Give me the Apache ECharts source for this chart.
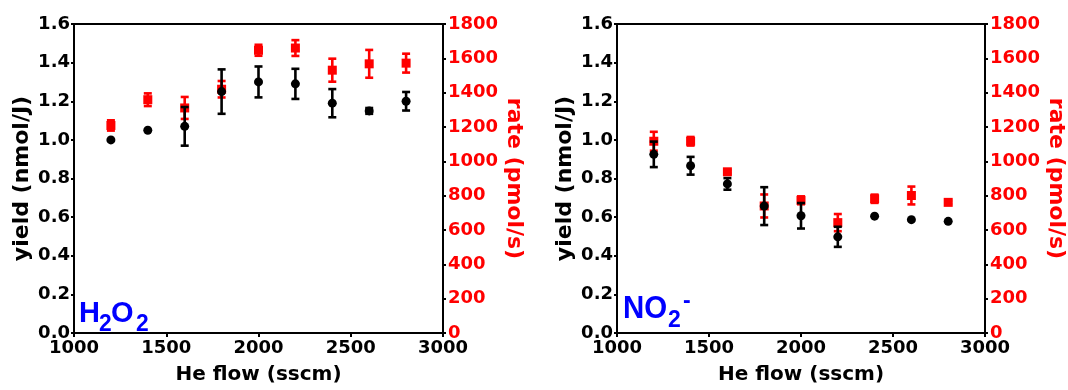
<!DOCTYPE html>
<html><head><meta charset="utf-8">
<script src="https://cdn.jsdelivr.net/npm/echarts@6/dist/echarts.min.js"></script>
<style>html,body{margin:0;padding:0;background:#fff}#c{width:1068px;height:390px}</style>
</head><body><div id="c"></div>
<script>
var flow = [1200, 1400, 1600, 1800, 2000, 2200, 2400, 2600, 2800];
var xTicks = [1000, 1500, 2000, 2500, 3000];
var yieldTicks = [0, 0.2, 0.4, 0.6, 0.8, 1.0, 1.2, 1.4, 1.6];
var rateTicks = [0, 200, 400, 600, 800, 1000, 1200, 1400, 1600, 1800];

var h2o2Yield    = [1.00, 1.05, 1.07, 1.25, 1.30, 1.29, 1.19, 1.15, 1.20];
var h2o2YieldErr = [0.00, 0.00, 0.10, 0.115, 0.08, 0.078, 0.073, 0.015, 0.048];
var h2o2Rate     = [1209, 1359, 1311, 1420, 1647, 1660, 1531, 1568, 1572];
var h2o2RateErr  = [30, 37, 64, 48, 32, 46, 67, 81, 55];

var no2Yield     = [0.925, 0.866, 0.772, 0.657, 0.607, 0.498, 0.605, 0.587, 0.578];
var no2YieldErr  = [0.066, 0.046, 0.030, 0.098, 0.066, 0.052, 0.00, 0.00, 0.00];
var no2Rate      = [1117, 1117, 939, 740, 773, 643, 782, 801, 761];
var no2RateErr   = [55, 25, 10, 67, 23, 50, 24, 52, 10];

var FONT = '"DejaVu Sans", "Liberation Sans", Arial, sans-serif';
var SANS = '"Liberation Sans", Arial, sans-serif';
var RED = '#ff0000';

function pts(ys) { return flow.map(function (x, i) { return [x, ys[i]]; }); }
function errs(ys, es) { return flow.map(function (x, i) { return [x, ys[i], es[i]]; }); }

function errRender(color) {
  return function (params, api) {
    var x = api.value(0), y = api.value(1), e = api.value(2);
    if (!e) return null;
    var t = api.coord([x, y + e]), b = api.coord([x, y - e]);
    var w = 4;
    var st = { stroke: color, lineWidth: 2.6 };
    return { type: 'group', children: [
      { type: 'line', shape: { x1: t[0], y1: t[1], x2: b[0], y2: b[1] }, style: st },
      { type: 'line', shape: { x1: t[0] - w, y1: t[1], x2: t[0] + w, y2: t[1] }, style: st },
      { type: 'line', shape: { x1: b[0] - w, y1: b[1], x2: b[0] + w, y2: b[1] }, style: st }
    ] };
  };
}

function xAx(gi) {
  return {
    type: 'value', gridIndex: gi, min: xTicks[0], max: xTicks[xTicks.length - 1], interval: 500,
    name: 'He flow (sscm)', nameLocation: 'middle', nameGap: 32,
    nameTextStyle: { color: '#000', fontFamily: FONT, fontWeight: 'bold', fontSize: 20 },
    axisLine: { show: true, lineStyle: { color: '#000', width: 2 } },
    axisTick: { show: true, length: 4, lineStyle: { color: '#000', width: 2 } },
    axisLabel: { color: '#000', fontFamily: FONT, fontWeight: 'bold', fontSize: 18, margin: 6,
      formatter: function (v) { return String(v); } },
    splitLine: { show: false }
  };
}
function yLeft(gi) {
  return {
    type: 'value', gridIndex: gi, position: 'left', min: 0, max: yieldTicks[yieldTicks.length - 1], interval: 0.2,
    name: 'yield (nmol/J)', nameLocation: 'middle', nameGap: 41,
    nameTextStyle: { color: '#000', fontFamily: FONT, fontWeight: 'bold', fontSize: 22 },
    axisLine: { show: true, onZero: false, lineStyle: { color: '#000', width: 2 } },
    axisTick: { show: true, length: 3, lineStyle: { color: '#000', width: 2 } },
    axisLabel: { color: '#000', fontFamily: FONT, fontWeight: 'bold', fontSize: 18, margin: 4,
      formatter: function (v) { return v.toFixed(1); } },
    splitLine: { show: false }
  };
}
function yRight(gi) {
  return {
    type: 'value', gridIndex: gi, position: 'right', min: 0, max: rateTicks[rateTicks.length - 1], interval: 200,
    name: 'rate (pmol/s)', nameLocation: 'middle', nameGap: 60, nameRotate: -90,
    nameTextStyle: { color: RED, fontFamily: FONT, fontWeight: 'bold', fontSize: 22 },
    axisLine: { show: true, onZero: false, lineStyle: { color: '#000', width: 2 } },
    axisTick: { show: true, length: 3, lineStyle: { color: '#000', width: 2 } },
    axisLabel: { color: RED, fontFamily: FONT, fontWeight: 'bold', fontSize: 18, margin: 5,
      formatter: function (v) { return String(v); } },
    splitLine: { show: false }
  };
}

function panelSeries(gi, yv, ye, rv, re) {
  var yl = gi * 2, yr = gi * 2 + 1;
  return [
    { type: 'custom', xAxisIndex: gi, yAxisIndex: yr, renderItem: errRender(RED), data: errs(rv, re), encode: { x: 0, y: 1 }, z: 2 },
    { type: 'scatter', xAxisIndex: gi, yAxisIndex: yr, symbol: 'rect', symbolSize: 9, itemStyle: { color: RED, opacity: 1 }, data: pts(rv), z: 3 },
    { type: 'custom', xAxisIndex: gi, yAxisIndex: yl, renderItem: errRender('#000'), data: errs(yv, ye), encode: { x: 0, y: 1 }, z: 4 },
    { type: 'scatter', xAxisIndex: gi, yAxisIndex: yl, symbol: 'circle', symbolSize: 9, itemStyle: { color: '#000', opacity: 1 }, data: pts(yv), z: 5 }
  ];
}

function blueText(t, x, y, size, sx) {
  return { type: 'text', x: x, y: y, scaleX: sx, z: 100,
    style: { text: t, font: 'bold ' + size + 'px ' + SANS, fill: '#0000ff', align: 'left', verticalAlign: 'top' } };
}

var chart = echarts.init(document.getElementById('c'), null, { renderer: 'canvas' });
chart.setOption({
  animation: false,
  backgroundColor: '#fff',
  grid: [
    { left: 74, right: 625, top: 24, bottom: 53, show: true, borderColor: '#000', borderWidth: 2, containLabel: false },
    { left: 617, right: 83, top: 24, bottom: 52, show: true, borderColor: '#000', borderWidth: 2, containLabel: false }
  ],
  xAxis: [xAx(0), xAx(1)],
  yAxis: [yLeft(0), yRight(0), yLeft(1), yRight(1)],
  series: [].concat(panelSeries(0, h2o2Yield, h2o2YieldErr, h2o2Rate, h2o2RateErr),
                   panelSeries(1, no2Yield, no2YieldErr, no2Rate, no2RateErr)),
  graphic: [
    blueText('H', 79, 299, 29, 1.0),
    blueText('2', 99, 312, 24, 0.95),
    blueText('O', 111, 299, 29, 1.0),
    blueText('2', 136, 312, 24, 0.95),
    blueText('NO', 623, 294, 31, 0.95),
    blueText('2', 668, 309, 23, 1.0),
    blueText('-', 683, 290, 23, 1.0)
  ]
});
</script></body></html>
